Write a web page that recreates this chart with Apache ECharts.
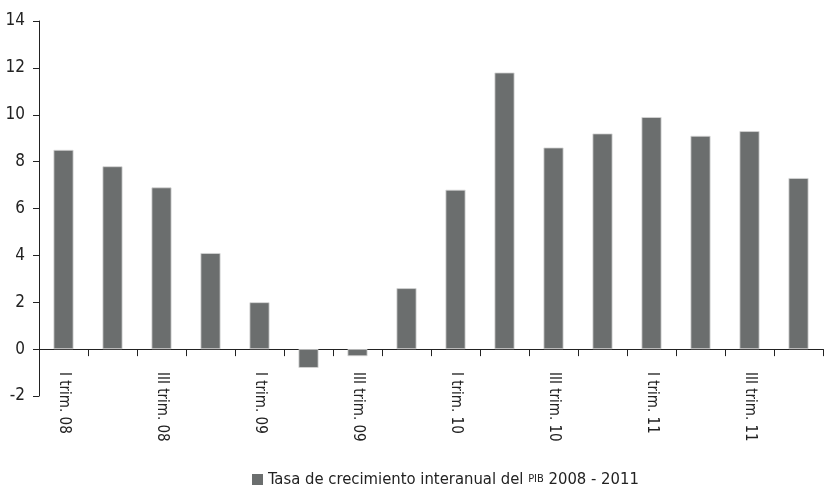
<!DOCTYPE html>
<html lang="es">

<head>
  <meta charset="UTF-8">
  <title>PIB 2008 - 2011</title>
</head>

<body style="margin:0">
  <div id="main" style="width: 838px;height:494px;"></div>

  <script src="https://cdn.jsdelivr.net/npm/echarts@6/dist/echarts.min.js"></script>

  <script type="text/javascript">
    // trimestres 2008 - 2011
    var categories = [
      'I trim. 08', 'II trim. 08', 'III trim. 08', 'IV trim. 08',
      'I trim. 09', 'II trim. 09', 'III trim. 09', 'IV trim. 09',
      'I trim. 10', 'II trim. 10', 'III trim. 10', 'IV trim. 10',
      'I trim. 11', 'II trim. 11', 'III trim. 11', 'IV trim. 11'
    ];
    var tasaPIB = [8.5, 7.8, 6.9, 4.1, 2.0, -0.8, -0.3, 2.6, 6.8, 11.8, 8.6, 9.2, 9.9, 9.1, 9.3, 7.3];
    var yTicks = [-2, 0, 2, 4, 6, 8, 10, 12, 14];

    var fontName = '"Liberation Sans Narrow", "DejaVu Sans Condensed", sans-serif';
    var textColor = '#222';

    var myChart = echarts.init(document.getElementById('main'));

    var option = {
      backgroundColor: '#fff',
      animation: false,
      grid: {
        left: 39,
        right: 15,
        top: 21,
        bottom: 98,
        containLabel: false
      },
      legend: {
        top: 466,
        left: 247,
        icon: 'rect',
        itemWidth: 11,
        itemHeight: 11,
        itemGap: 6,
        itemStyle: { borderWidth: 0 },
        textStyle: {
          fontFamily: fontName,
          fontSize: 16.5,
          color: textColor,
          rich: {
            sc: { fontFamily: fontName, fontSize: 11, color: textColor }
          }
        },
        formatter: function () {
          return 'Tasa de crecimiento interanual del {sc|PIB} 2008 - 2011';
        },
        data: ['Tasa']
      },
      xAxis: {
        type: 'category',
        data: categories,
        boundaryGap: true,
        axisLine: {
          onZero: true,
          lineStyle: { color: '#222', width: 1 }
        },
        axisTick: {
          show: true,
          interval: 0,
          length: 7,
          lineStyle: { color: '#222' }
        },
        axisLabel: {
          interval: 1,
          rotate: -90,
          margin: -24,
          fontFamily: fontName,
          fontSize: 15,
          color: textColor
        }
      },
      yAxis: {
        type: 'value',
        min: yTicks[0],
        max: yTicks[yTicks.length - 1],
        interval: 2,
        splitLine: { show: false },
        axisLine: {
          show: true,
          lineStyle: { color: '#222', width: 1 }
        },
        axisTick: {
          show: true,
          length: 6,
          lineStyle: { color: '#222' }
        },
        axisLabel: {
          margin: 14,
          fontFamily: fontName,
          fontSize: 17,
          color: textColor
        }
      },
      series: [{
        name: 'Tasa',
        type: 'bar',
        data: tasaPIB,
        barWidth: 20,
        itemStyle: {
          color: '#6b6e6e',
          borderColor: '#d6d6d6',
          borderWidth: 0.8
        }
      }]
    };

    myChart.setOption(option);
  </script>
</body>

</html>
